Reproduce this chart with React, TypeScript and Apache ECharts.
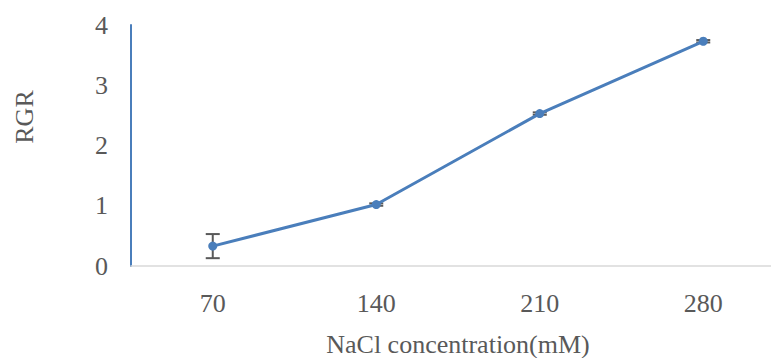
import React, { useEffect, useRef } from "react";
import * as echarts from "echarts";

const categories = ["70", "140", "210", "280"];
const rgrValues = [0.33, 1.02, 2.53, 3.73];
const errLow = [0.13, 1.0, 2.51, 3.71];
const errHigh = [0.53, 1.04, 2.55, 3.75];
const yTicks = [0, 1, 2, 3, 4];

export default function App() {
  const ref = useRef<HTMLDivElement>(null);
  useEffect(() => {
    const chart = echarts.init(ref.current!, null, { renderer: "svg" });
    const font = "'Liberation Serif', 'Times New Roman', serif";
    chart.setOption({
      animation: false,
      backgroundColor: "#ffffff",
      textStyle: { fontFamily: font },
      grid: {
        left: 131,
        top: 25,
        right: 0,
        bottom: 92,
        containLabel: false,
        outerBoundsMode: "none",
      },
      xAxis: {
        type: "category",
        data: categories,
        boundaryGap: true,
        axisLine: { lineStyle: { color: "#d9d9d9", width: 1.5 } },
        axisTick: { show: false },
        axisLabel: { color: "#595959", fontSize: 26, fontFamily: font, margin: 24 },
        name: "NaCl concentration(mM)",
        nameLocation: "middle",
        nameGap: 65,
        nameTextStyle: { color: "#595959", fontSize: 26, fontFamily: font },
      },
      yAxis: {
        type: "value",
        min: yTicks[0],
        max: yTicks[yTicks.length - 1],
        interval: 1,
        axisLine: { show: true, lineStyle: { color: "#4a7ebb", width: 2 } },
        axisTick: { show: false },
        splitLine: { show: false },
        axisLabel: { color: "#595959", fontSize: 26, fontFamily: font, margin: 23 },
      },
      graphic: [
        {
          type: "text",
          x: 24,
          y: 117,
          rotation: Math.PI / 2,
          style: {
            text: "RGR",
            fill: "#595959",
            font: `26px ${font}`,
            textAlign: "center",
            textVerticalAlign: "middle",
          },
        },
      ],
      series: [
        {
          type: "custom",
          z: 1,
          data: categories.map((_, i) => [i, errLow[i], errHigh[i]]),
          renderItem: (params: any, api: any) => {
            const x = api.value(0);
            const lo = api.coord([x, api.value(1)]);
            const hi = api.coord([x, api.value(2)]);
            const hw = 7;
            const style = { stroke: "#595959", lineWidth: 2 };
            return {
              type: "group",
              children: [
                { type: "line", shape: { x1: lo[0], y1: lo[1], x2: hi[0], y2: hi[1] }, style },
                { type: "line", shape: { x1: lo[0] - hw, y1: lo[1], x2: lo[0] + hw, y2: lo[1] }, style },
                { type: "line", shape: { x1: hi[0] - hw, y1: hi[1], x2: hi[0] + hw, y2: hi[1] }, style },
              ],
            };
          },
        },
        {
          type: "line",
          z: 2,
          data: rgrValues,
          symbol: "circle",
          symbolSize: 9,
          lineStyle: { color: "#4a7ebb", width: 3 },
          itemStyle: { color: "#4a7ebb" },
        },
      ],
    });
    return () => chart.dispose();
  }, []);
  return (
    <div style={{ width: 779, height: 358, marginLeft: -8, marginTop: -8, overflow: "hidden" }}>
      <div ref={ref} style={{ width: 785, height: 358 }} />
    </div>
  );
}
